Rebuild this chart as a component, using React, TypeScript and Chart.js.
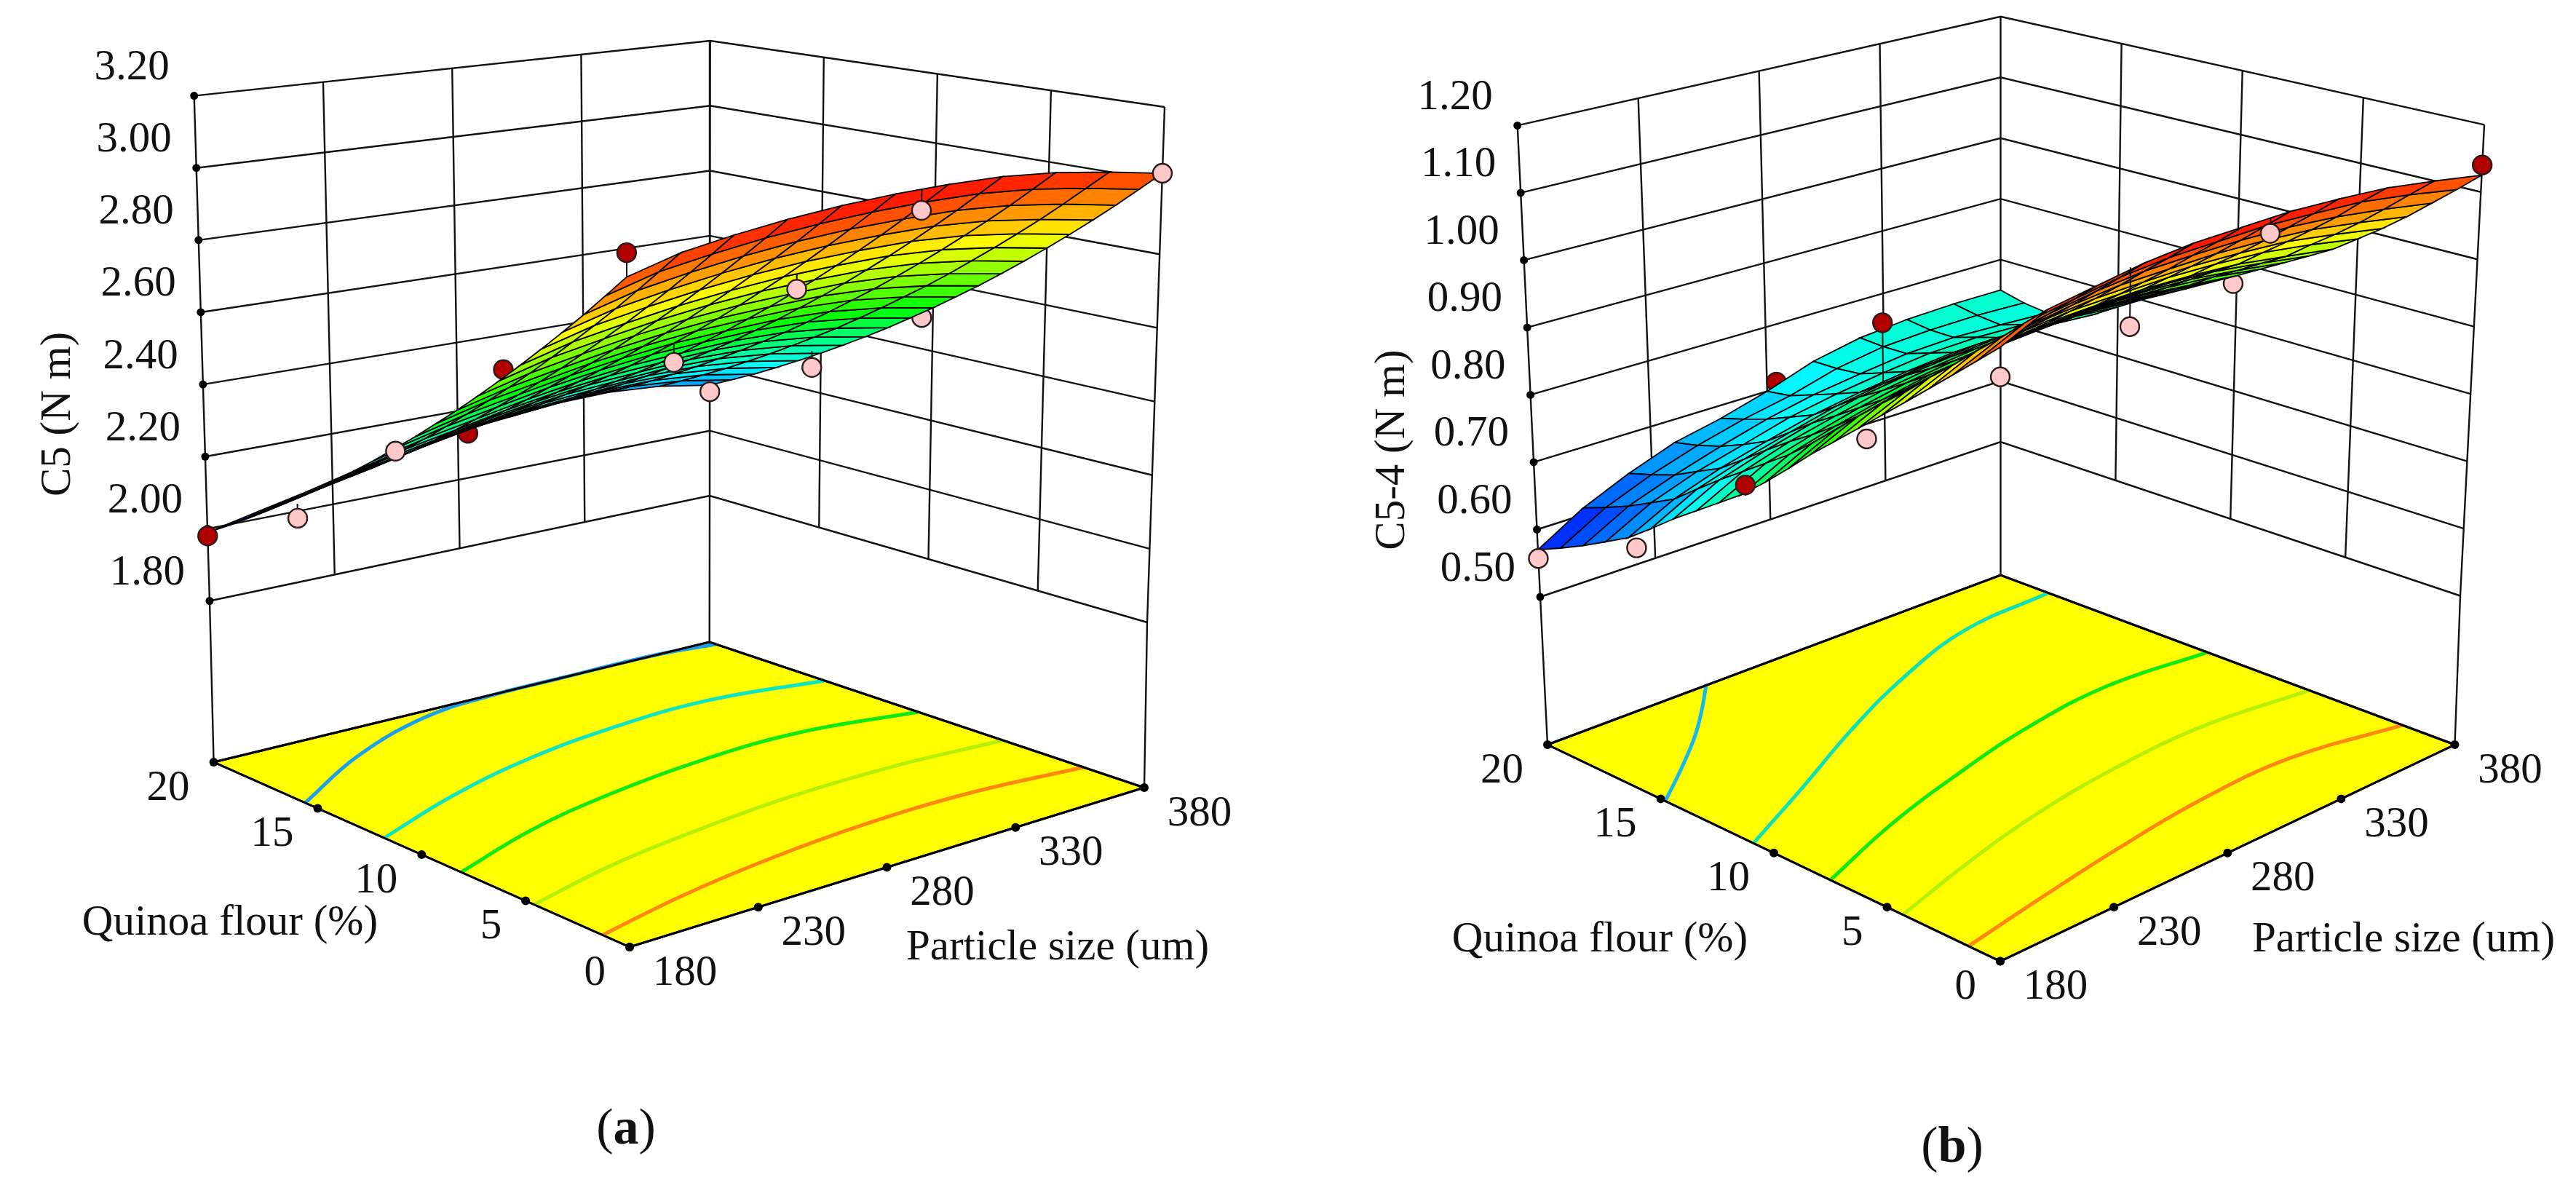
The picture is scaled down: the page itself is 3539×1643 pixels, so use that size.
import React, { useEffect, useRef } from "react";
import { Chart, registerables } from "chart.js";

Chart.register(...registerables);

const particleTicks = [180, 230, 280, 330, 380];
const quinoaTicks = [0, 5, 10, 15, 20];
const c5Ticks = [1.8, 2.0, 2.2, 2.4, 2.6, 2.8, 3.0, 3.2];
const c54Ticks = [0.5, 0.6, 0.7, 0.8, 0.9, 1.0, 1.1, 1.2];
const gridParticle = [180, 200, 220, 240, 260, 280, 300, 320, 340, 360, 380];

// one row per 1 % of quinoa flour (0 to 20), one column per gridParticle value
const c5Surface = [
  [3.01, 3.045, 3.065, 3.08, 3.09, 3.095, 3.095, 3.09, 3.075, 3.05, 3.02],
  [2.949, 2.984, 3.004, 3.02, 3.031, 3.037, 3.038, 3.034, 3.02, 2.996, 2.966],
  [2.888, 2.923, 2.944, 2.961, 2.973, 2.98, 2.981, 2.978, 2.965, 2.942, 2.912],
  [2.829, 2.863, 2.885, 2.903, 2.916, 2.924, 2.926, 2.924, 2.912, 2.889, 2.86],
  [2.771, 2.805, 2.827, 2.846, 2.86, 2.869, 2.872, 2.871, 2.86, 2.838, 2.809],
  [2.714, 2.748, 2.77, 2.79, 2.805, 2.815, 2.819, 2.819, 2.809, 2.788, 2.759],
  [2.658, 2.692, 2.715, 2.736, 2.752, 2.763, 2.767, 2.768, 2.759, 2.739, 2.71],
  [2.603, 2.636, 2.66, 2.682, 2.699, 2.711, 2.716, 2.718, 2.71, 2.69, 2.662],
  [2.549, 2.582, 2.606, 2.629, 2.647, 2.66, 2.666, 2.669, 2.662, 2.643, 2.615],
  [2.497, 2.53, 2.554, 2.578, 2.597, 2.611, 2.618, 2.622, 2.616, 2.598, 2.57],
  [2.445, 2.478, 2.503, 2.528, 2.548, 2.563, 2.57, 2.575, 2.57, 2.553, 2.525],
  [2.395, 2.427, 2.453, 2.479, 2.5, 2.516, 2.524, 2.53, 2.526, 2.509, 2.482],
  [2.345, 2.377, 2.403, 2.43, 2.452, 2.469, 2.478, 2.485, 2.482, 2.466, 2.439],
  [2.297, 2.329, 2.355, 2.383, 2.406, 2.424, 2.434, 2.442, 2.44, 2.425, 2.398],
  [2.25, 2.282, 2.309, 2.338, 2.362, 2.381, 2.391, 2.4, 2.399, 2.385, 2.358],
  [2.204, 2.235, 2.263, 2.293, 2.318, 2.338, 2.349, 2.359, 2.359, 2.345, 2.319],
  [2.159, 2.19, 2.218, 2.249, 2.275, 2.296, 2.308, 2.319, 2.32, 2.307, 2.281],
  [2.115, 2.146, 2.174, 2.206, 2.233, 2.255, 2.268, 2.28, 2.282, 2.27, 2.244],
  [2.072, 2.103, 2.132, 2.165, 2.193, 2.216, 2.229, 2.242, 2.245, 2.234, 2.208],
  [2.03, 2.06, 2.09, 2.125, 2.154, 2.178, 2.192, 2.206, 2.21, 2.199, 2.174],
  [1.99, 2.02, 2.05, 2.085, 2.115, 2.14, 2.155, 2.17, 2.175, 2.165, 2.14],
];

const c54Surface = [
  [1.11, 1.14, 1.15, 1.16, 1.165, 1.165, 1.165, 1.16, 1.153, 1.14, 1.125],
  [1.08, 1.11, 1.12, 1.13, 1.135, 1.135, 1.135, 1.13, 1.124, 1.111, 1.095],
  [1.05, 1.079, 1.09, 1.1, 1.106, 1.106, 1.105, 1.101, 1.093, 1.081, 1.066],
  [1.02, 1.05, 1.06, 1.07, 1.076, 1.076, 1.076, 1.072, 1.065, 1.052, 1.037],
  [0.99, 1.019, 1.03, 1.041, 1.047, 1.048, 1.048, 1.044, 1.038, 1.025, 1.01],
  [0.96, 0.99, 1.002, 1.012, 1.019, 1.02, 1.021, 1.018, 1.012, 1.0, 0.985],
  [0.93, 0.959, 0.972, 0.983, 0.991, 0.993, 0.994, 0.991, 0.985, 0.973, 0.96],
  [0.9, 0.931, 0.944, 0.956, 0.965, 0.968, 0.97, 0.969, 0.964, 0.953, 0.94],
  [0.87, 0.901, 0.916, 0.929, 0.939, 0.943, 0.946, 0.946, 0.942, 0.932, 0.92],
  [0.837, 0.869, 0.886, 0.899, 0.911, 0.917, 0.921, 0.923, 0.919, 0.912, 0.9],
  [0.805, 0.838, 0.855, 0.871, 0.884, 0.891, 0.896, 0.899, 0.897, 0.889, 0.88],
  [0.775, 0.809, 0.828, 0.844, 0.858, 0.866, 0.872, 0.876, 0.875, 0.869, 0.86],
  [0.75, 0.784, 0.803, 0.82, 0.834, 0.844, 0.851, 0.855, 0.854, 0.848, 0.84],
  [0.725, 0.759, 0.78, 0.796, 0.811, 0.821, 0.829, 0.834, 0.833, 0.829, 0.82],
  [0.7, 0.734, 0.755, 0.773, 0.789, 0.799, 0.806, 0.812, 0.812, 0.807, 0.8],
  [0.672, 0.707, 0.728, 0.746, 0.763, 0.774, 0.782, 0.789, 0.79, 0.785, 0.778],
  [0.645, 0.679, 0.702, 0.72, 0.737, 0.749, 0.758, 0.765, 0.765, 0.761, 0.755],
  [0.625, 0.66, 0.684, 0.702, 0.721, 0.734, 0.744, 0.752, 0.754, 0.751, 0.745],
  [0.605, 0.641, 0.665, 0.686, 0.705, 0.72, 0.73, 0.739, 0.742, 0.739, 0.735],
  [0.587, 0.625, 0.652, 0.674, 0.692, 0.706, 0.726, 0.738, 0.742, 0.743, 0.74],
  [0.57, 0.61, 0.64, 0.665, 0.68, 0.7, 0.725, 0.74, 0.747, 0.75, 0.75],
];

// design points: [particle size, quinoa %, response]
const c5AboveBehind = [[284, 20, 2.13], [180, 5.8, 2.69]];
const c5AboveFront = [[180, 20, 1.98], [180, 0, 3.07]];
const c5BelowBehind = [[380, 10.5, 2.49]];
const c5BelowFront = [
  [180, 15.66, 2.12], [180, 10.94, 2.39], [280, 10, 2.51], [380, 20, 2.12],
  [380, 15.4, 2.27], [285, 5, 2.775], [290, 0, 3.04], [380, 0, 3.02],
];
const c54AboveBehind = [[284, 20, 0.71]];
const c54AboveFront = [[280, 15, 0.867], [180, 10.86, 0.79], [380, 0, 1.14]];
const c54BelowBehind = [[180, 5.64, 0.92], [277, 0, 1.089]];
const c54BelowFront = [
  [180, 20, 0.557], [180, 15.66, 0.635], [180, 0, 1.07], [234, 0, 1.078], [292, 0, 1.143],
];

// floor contours: [particle size, quinoa %]
const c5ContourBlue = [[180, 15.6], [220, 17.9], [260, 19.5], [290, 19.95], [320, 20], [360, 20], [380, 19.7]];
const c5ContourCyan = [[180, 11.8], [220, 13.4], [260, 14.6], [300, 15.3], [340, 15.5], [380, 14.7]];
const c5ContourGreen = [[180, 8.1], [220, 9.6], [260, 10.6], [300, 11.2], [340, 11.3], [380, 10.4]];
const c5ContourLime = [[180, 4.6], [220, 5.7], [260, 6.4], [300, 6.85], [340, 6.9], [380, 6.5]];
const c5ContourOrange = [[180, 1.3], [220, 2.3], [260, 3.0], [300, 3.4], [340, 3.4], [380, 2.8]];
const c54ContourBlue = [[180, 14.8], [200, 16.1], [220, 17.5], [235, 18.7], [250, 20]];
const c54ContourCyan = [[180, 10.9], [220, 12.7], [260, 14.6], [300, 16.3], [340, 17.6], [380, 17.9]];
const c54ContourGreen = [[180, 7.5], [220, 8.9], [260, 10.0], [300, 10.9], [340, 11.35], [380, 10.9]];
const c54ContourLime = [[180, 4.3], [220, 5.4], [260, 6.3], [300, 6.85], [340, 7.0], [380, 6.4]];
const c54ContourOrange = [[180, 1.4], [220, 2.1], [260, 2.75], [300, 3.25], [340, 3.3], [380, 2.3]];

const SERIF = '"Liberation Serif", serif';
const PAGE_H = 1643;
const TEXT_PX = 59;

type XY = { x: number; y: number };
type Plane = { L: number[]; F: number[]; K: number[]; R: number[] };

const panelA = {
  left: 0, width: 1770,
  floor: { L: [293.6, 1047], F: [865, 1301], K: [974.7, 882], R: [1572, 1082] },
  low: { L: [288, 825.5], F: [864, 1052], K: [975, 681], R: [1576, 855] },
  top: { L: [266.7, 131.6], F: [860.6, 275], K: [975.7, 56], R: [1600, 147] },
  zTicks: c5Ticks, surface: c5Surface,
  aboveBehind: c5AboveBehind, aboveFront: c5AboveFront, belowBehind: c5BelowBehind, belowFront: c5BelowFront,
  contours: [
    [c5ContourBlue, "#1aa0ee"], [c5ContourCyan, "#10e4c0"], [c5ContourGreen, "#12e812"],
    [c5ContourLime, "#b4f000"], [c5ContourOrange, "#ff8612"],
  ],
  yTitle: "C5 (N m)", yTitleAt: [80, 569],
  quinoaAt: [316, 1268], particleAt: [1453, 1302],
  caption: "a", captionAt: [860, 1553],
};
const panelB = {
  left: 1770, width: 1769,
  floor: { L: [2126, 1023], F: [2748, 1320.5], K: [2748.5, 790], R: [3372.5, 1023] },
  low: { L: [2116, 820], F: [2748, 1097.5], K: [2748.5, 607], R: [3380, 818.5] },
  top: { L: [2084.7, 172.4], F: [2748, 385.5], K: [2748.5, 22.8], R: [3413, 171.3] },
  zTicks: c54Ticks, surface: c54Surface,
  aboveBehind: c54AboveBehind, aboveFront: c54AboveFront, belowBehind: c54BelowBehind, belowFront: c54BelowFront,
  contours: [
    [c54ContourBlue, "#14b8f0"], [c54ContourCyan, "#10e0b8"], [c54ContourGreen, "#12e812"],
    [c54ContourLime, "#b4f000"], [c54ContourOrange, "#ff8612"],
  ],
  yTitle: "C5-4 (N m)", yTitleAt: [1913, 618],
  quinoaAt: [2198, 1291], particleAt: [3302, 1291],
  caption: "b", captionAt: [2682, 1578],
};

function onPlane(pl: Plane, u: number, s: number): number[] {
  return [0, 1].map((i) =>
    (1 - u) * ((1 - s) * pl.L[i] + s * pl.F[i]) + u * ((1 - s) * pl.K[i] + s * pl.R[i]));
}

function ramp(t: number): string {
  const stops = [[0, 0, 255], [0, 255, 255], [0, 255, 0], [255, 255, 0], [255, 0, 0]];
  const c = Math.max(0, Math.min(1, t)) * 4;
  const i = Math.min(3, Math.floor(c));
  const f = c - i;
  const m = stops[i].map((a, k) => Math.round(a + (stops[i + 1][k] - a) * f));
  return `rgb(${m[0]},${m[1]},${m[2]})`;
}

function buildPanel(panel: any) {
  const pMin = particleTicks[0];
  const pMax = particleTicks[particleTicks.length - 1];
  const qMax = quinoaTicks[quinoaTicks.length - 1];
  const zMin = panel.zTicks[0];
  const zMax = panel.zTicks[panel.zTicks.length - 1];
  const us = (p: number, q: number) => [(p - pMin) / (pMax - pMin), 1 - q / qMax];

  const project = (p: number, q: number, z: number): XY => {
    const [u, s] = us(p, q);
    const a = onPlane(panel.low, u, s);
    const b = onPlane(panel.top, u, s);
    const w = (z - zMin) / (zMax - zMin);
    return { x: a[0] + (b[0] - a[0]) * w, y: a[1] + (b[1] - a[1]) * w };
  };
  const onFloor = (p: number, q: number): XY => {
    const [u, s] = us(p, q);
    const a = onPlane(panel.floor, u, s);
    return { x: a[0], y: a[1] };
  };
  const surfaceAt = (p: number, q: number) => {
    const j = Math.round((p - pMin) / (gridParticle[1] - gridParticle[0]));
    return panel.surface[Math.round(q)][j];
  };

  const datasets: any[] = [];
  const add = (d: any) => datasets.push({ ...d, order: -datasets.length, clip: false });
  const line = (data: XY[], color = "#111", width = 2.4, extra: any = {}) =>
    add({ data, showLine: true, pointRadius: 0, borderColor: color, borderWidth: width, fill: false, tension: 0, ...extra });
  const dots = (data: XY[], r: number, color: string, border: string, bw: number) =>
    add({ data, showLine: false, pointRadius: r, pointBackgroundColor: color, pointBorderColor: border, pointBorderWidth: bw });

  // floor
  const corners = [onFloor(pMin, qMax), onFloor(pMin, 0), onFloor(pMax, 0), onFloor(pMax, qMax)];
  line([...corners, corners[0]], "#000", 3, { fill: "shape", backgroundColor: "#ffff00" });
  panel.contours.forEach(([pts, color]: any) => {
    line(pts.map((c: number[]) => onFloor(c[0], c[1])), color, 5, { tension: 0.4 });
  });
  line([...corners, corners[0]], "#000", 3);

  // walls
  particleTicks.forEach((p) => {
    if (p === pMin || p === pMax) return;
    line([project(p, qMax, zMax), project(p, qMax, zMin)]);
  });
  quinoaTicks.forEach((q) => {
    if (q === qMax || q === 0) return;
    line([project(pMax, q, zMax), project(pMax, q, zMin)]);
  });
  ([[pMin, qMax], [pMax, qMax], [pMax, 0]] as number[][]).forEach(([p, q]) => {
    line([project(p, q, zMax), project(p, q, zMin), onFloor(p, q)]);
  });
  panel.zTicks.forEach((z: number) => {
    line([project(pMin, qMax, z), project(pMax, qMax, z), project(pMax, 0, z)]);
  });

  // tick dots
  dots(panel.zTicks.map((z: number) => project(pMin, qMax, z)), 5.5, "#000", "#000", 0);
  dots(quinoaTicks.map((q) => onFloor(pMin, q)), 6, "#000", "#000", 0);
  dots(particleTicks.map((p) => onFloor(p, 0)), 6, "#000", "#000", 0);

  const marker = (pts: number[][], color: string) => {
    pts.forEach(([p, q, z]) => {
      line([project(p, q, z), project(p, q, surfaceAt(p, q))], "#111", 2);
    });
    dots(pts.map(([p, q, z]) => project(p, q, z)), 13, color, "#2a1a1a", 2.4);
  };
  const RED = "#b00000";
  const PINK = "#ffc9c9";

  marker(panel.aboveBehind, RED);
  marker(panel.belowBehind, PINK);

  // surface: far cells first
  const all = panel.surface.flat();
  const lo = Math.min(...all);
  const hi = Math.max(...all);
  const cells: any[] = [];
  for (let q = 0; q < panel.surface.length - 1; q++) {
    for (let j = 0; j < gridParticle.length - 1; j++) {
      const zs = [panel.surface[q][j], panel.surface[q][j + 1], panel.surface[q + 1][j + 1], panel.surface[q + 1][j]];
      const poly = [
        project(gridParticle[j], q, zs[0]),
        project(gridParticle[j + 1], q, zs[1]),
        project(gridParticle[j + 1], q + 1, zs[2]),
        project(gridParticle[j], q + 1, zs[3]),
      ];
      const [u, s] = us(gridParticle[j], q);
      cells.push({ depth: s + (1 - u), poly, mean: (zs[0] + zs[1] + zs[2] + zs[3]) / 4 });
    }
  }
  cells.sort((a, b) => a.depth - b.depth);
  cells.forEach((c) => {
    line([...c.poly, c.poly[0]], "#000", 1.8, { fill: "shape", backgroundColor: ramp((c.mean - lo) / (hi - lo)) });
  });

  marker(panel.aboveFront, RED);
  marker(panel.belowFront, PINK);

  // text
  const texts: any[] = [];
  const font = `${TEXT_PX}px ${SERIF}`;
  panel.zTicks.forEach((z: number) => {
    const at = project(pMin, qMax, z);
    texts.push({ t: z.toFixed(2), x: at.x - 34, y: at.y - 38, align: "right", font });
  });
  quinoaTicks.forEach((q) => {
    const at = onFloor(pMin, q);
    texts.push({ t: String(q), x: at.x - 33, y: at.y + 36, align: "right", font });
  });
  particleTicks.forEach((p) => {
    const at = onFloor(p, 0);
    texts.push({ t: String(p), x: at.x + 76, y: at.y + 36, align: "center", font });
  });
  texts.push({ t: "Quinoa flour (%)", x: panel.quinoaAt[0], y: panel.quinoaAt[1], align: "center", font });
  texts.push({ t: "Particle size (um)", x: panel.particleAt[0], y: panel.particleAt[1], align: "center", font });
  texts.push({ t: panel.yTitle, x: panel.yTitleAt[0], y: panel.yTitleAt[1], align: "center", font, rot: -Math.PI / 2 });

  const caption = { t: panel.caption, x: panel.captionAt[0], y: panel.captionAt[1] };

  const textPlugin = {
    id: "panelText",
    afterDraw(chart: any) {
      const { ctx, scales } = chart;
      ctx.save();
      ctx.fillStyle = "#111";
      ctx.textBaseline = "middle";
      texts.forEach((t) => {
        ctx.save();
        ctx.translate(scales.x.getPixelForValue(t.x), scales.y.getPixelForValue(t.y));
        if (t.rot) ctx.rotate(t.rot);
        ctx.font = t.font;
        ctx.textAlign = t.align;
        ctx.fillText(t.t, 0, 0);
        ctx.restore();
      });
      // caption: regular parentheses around a bold letter
      const cx = scales.x.getPixelForValue(caption.x);
      const cy = scales.y.getPixelForValue(caption.y);
      const reg = `70px ${SERIF}`;
      const bold = `bold 70px ${SERIF}`;
      ctx.font = reg;
      const pw = ctx.measureText("(").width;
      ctx.font = bold;
      const lw = ctx.measureText(caption.t).width;
      const x0 = cx - (2 * pw + lw) / 2;
      ctx.textAlign = "left";
      ctx.font = reg;
      ctx.fillText("(", x0, cy);
      ctx.fillText(")", x0 + pw + lw, cy);
      ctx.font = bold;
      ctx.fillText(caption.t, x0 + pw, cy);
      ctx.restore();
    },
  };

  return { datasets, textPlugin };
}

function Panel({ panel }: { panel: any }) {
  const ref = useRef<HTMLCanvasElement>(null);
  useEffect(() => {
    const { datasets, textPlugin } = buildPanel(panel);
    const chart = new Chart(ref.current as HTMLCanvasElement, {
      type: "scatter",
      data: { datasets },
      options: {
        responsive: false,
        animation: false,
        events: [],
        layout: { padding: 0, autoPadding: false },
        plugins: { legend: { display: false }, tooltip: { enabled: false }, title: { display: false } },
        scales: {
          x: { type: "linear", display: false, min: panel.left, max: panel.left + panel.width },
          y: { type: "linear", display: false, min: 0, max: PAGE_H, reverse: true },
        },
      },
      plugins: [textPlugin],
    } as any);
    return () => chart.destroy();
  }, [panel]);
  return (
    <canvas
      ref={ref}
      width={panel.width}
      height={PAGE_H}
      style={{ position: "absolute", left: panel.left, top: 0, width: panel.width, height: PAGE_H, display: "block" }}
    />
  );
}

export default function App() {
  return (
    <div style={{ position: "absolute", left: 0, top: 0, width: 3539, height: PAGE_H, overflow: "hidden", background: "#fff" }}>
      <Panel panel={panelA} />
      <Panel panel={panelB} />
    </div>
  );
}
